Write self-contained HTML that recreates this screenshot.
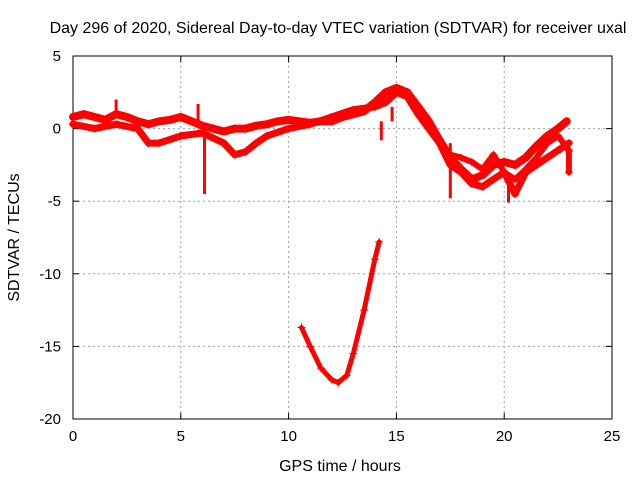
<!DOCTYPE html>
<html><head><meta charset="utf-8"><style>
body{margin:0;background:#fff}
svg{display:block;font-family:"Liberation Sans",sans-serif}
</style></head><body>
<svg id="chart" width="640" height="480"></svg>
<script>
const xTicks=[0,5,10,15,20,25];
const yTicks=[5,0,-5,-10,-15,-20];
const trackUpper=[[0,0.8],[0.5,1],[1,0.8],[1.5,0.6],[2,1],[2.5,0.8],[3,0.5],[3.5,0.3],[4,0.5],[4.5,0.6],[5,0.8],[5.5,0.5],[6,0.2],[6.5,0],[7,-0.2],[7.5,0],[8,0],[8.5,0.2],[9,0.3],[9.5,0.5],[10,0.6],[10.5,0.5],[11,0.4],[11.5,0.5],[12,0.5],[12.5,0.8],[13,1],[13.5,1.2],[14,1.8],[14.5,2.5],[15,2.8],[15.5,2.5],[16,1.5],[16.5,0.5],[17,-0.8],[17.5,-2],[18,-2.8],[18.5,-3.5],[19,-3.2],[19.5,-2.5],[20,-2.3],[20.5,-2.5],[21,-2],[21.5,-1.2],[22,-0.5],[22.5,0],[22.9,0.5]];
const trackLower=[[0,0.3],[1,0],[2,0.3],[3,0],[3.5,-1],[4,-1],[5,-0.5],[6,-0.3],[7,-1],[7.5,-1.8],[8,-1.6],[8.5,-1],[9,-0.5],[10,0],[11,0.3],[12,0.8],[13,1.3],[14,1.5],[14.5,1.8],[15,2.5],[15.5,2.2],[16,1],[17,-1],[17.5,-2.5],[18,-3],[18.5,-3.8],[19,-4],[19.5,-3.5],[20,-3],[20.5,-4.5],[21,-3],[21.5,-2.5],[22,-2],[22.5,-1.5],[23,-1]];
const trackThird=[[17,-1],[17.5,-1.8],[18,-2],[18.5,-2.3],[19,-2.8],[19.5,-1.8],[20,-3],[20.5,-3.5],[21,-2.8],[21.5,-2],[22,-1],[22.5,-0.5],[23,-1.5],[23,-3]];
const trackDip=[[10.6,-13.7],[11,-15],[11.5,-16.5],[12,-17.3],[12.3,-17.5],[12.7,-17],[13,-15.5],[13.5,-12.5],[14,-9],[14.2,-7.8]];
const spikes=[[6.1,0.3,-4.5],[17.5,-1,-4.8],[20.2,-3,-5.1],[14.3,0.5,-0.8],[5.8,1.7,0.5],[2,2,0.8],[14.8,1.5,0.5]];
const svg=document.getElementById('chart');const NS='http://www.w3.org/2000/svg';
const X0=73,X1=612,Y0=56,Y1=419;
const sx=v=>X0+(v-0)/25*(X1-X0);
const sy=v=>Y0+(5-v)/25*(Y1-Y0);
function mk(t,a,p){const e=document.createElementNS(NS,t);for(const k in a)e.setAttribute(k,a[k]);(p||svg).appendChild(e);return e;}
let t=mk('text',{x:338,y:33,'text-anchor':'middle','font-size':16,fill:'#000'});t.textContent='Day 296 of 2020, Sidereal Day-to-day VTEC variation (SDTVAR) for receiver uxal';


xTicks.forEach(v=>{const x=sx(v);
 if(v>0&&v<25){const g=mk('line',{x1:x,x2:x,y1:Y0,y2:Y1,stroke:'#a0a0a0','stroke-dasharray':'2,3','stroke-width':1});}
 mk('line',{x1:x,x2:x,y1:Y1,y2:Y1-6,stroke:'#000'});mk('line',{x1:x,x2:x,y1:Y0,y2:Y0+6,stroke:'#000'});
 const l=mk('text',{x:x,y:Y1+22,'text-anchor':'middle','font-size':15});l.textContent=v;
 
 });
yTicks.forEach(v=>{const y=sy(v);
 if(v<5&&v>-20){const g=mk('line',{x1:X0,x2:X1,y1:y,y2:y,stroke:'#a0a0a0','stroke-dasharray':'2,3','stroke-width':1});}
 mk('line',{x1:X0,x2:X0+6,y1:y,y2:y,stroke:'#000'});mk('line',{x1:X1,x2:X1-6,y1:y,y2:y,stroke:'#000'});
 const l=mk('text',{x:X0-12,y:y+5,'text-anchor':'end','font-size':15});l.textContent=v;
 
 });
const fr=mk('rect',{x:X0,y:Y0,width:X1-X0,height:Y1-Y0,fill:'none',stroke:'#000'});


const xl=mk('text',{x:340,y:471,'text-anchor':'middle','font-size':16});xl.textContent='GPS time / hours';


const yl=mk('text',{x:0,y:0,'text-anchor':'middle','font-size':16,transform:`translate(19,${(Y0+Y1)/2}) rotate(-90)`});yl.textContent='SDTVAR / TECUs';


function track(arr,name,w){
 const d=arr.map((p,i)=>(i?'L':'M')+sx(p[0]).toFixed(1)+','+sy(p[1]).toFixed(1)).join('');
 const p=mk('path',{d:d,fill:'none',stroke:'#f00','stroke-width':w,'stroke-linejoin':'round','stroke-linecap':'round'});
 
 
 arr.forEach(q=>{const x=sx(q[0]),y=sy(q[1]);
  const m=mk('path',{d:`M${x-4},${y}h8M${x},${y-4}v8`,stroke:'#f00','stroke-width':1});
  
  });
}
track(trackUpper,'series-upper-band',8);
track(trackLower,'series-lower-band',7);
track(trackThird,'series-third-band',6);
track(trackDip,'series-dip-curve',5);
spikes.forEach(s=>{const x=sx(s[0]);
 const l=mk('line',{x1:x,x2:x,y1:sy(s[1]),y2:sy(s[2]),stroke:'#f00','stroke-width':3});
 
 });
</script>
</body></html>
